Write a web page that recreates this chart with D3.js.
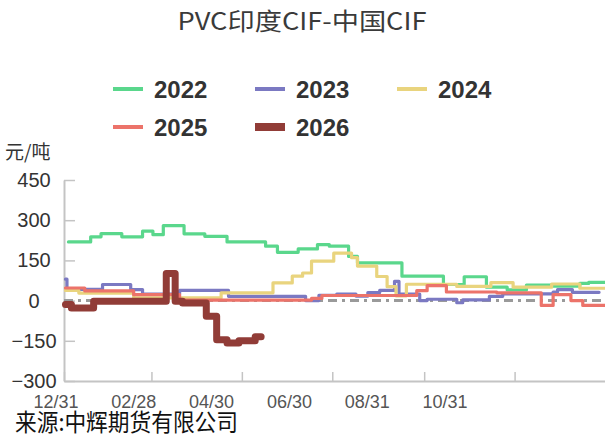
<!DOCTYPE html>
<html><head><meta charset="utf-8">
<script src="https://cdn.jsdelivr.net/npm/d3@7"></script>
<style>
html,body{margin:0;padding:0;background:#fff;}
svg{display:block;}
</style></head>
<body>
<svg id="chart" width="605" height="434"></svg>
<script>
// ---- data (dates are MM-DD within the seasonal year, values in 元/吨) ----
const seriesNames = ["2022", "2023", "2024", "2025", "2026"];
const seriesColors = ["#5AD78C", "#7B79C2", "#E9D47E", "#EC736A", "#913C37"];

const d2022 = [["01-03",219],["01-18",238],["01-25",250],["02-08",238],["02-22",259],["03-01",246],["03-08",280],["03-22",249],["04-05",240],["04-20",219],["05-16",203],["05-24",180],["06-07",193],["06-20",209],["06-28",203],["07-11",165],["07-17",141],["08-16",91],["09-13",60],["09-27",89],["10-12",50],["10-26",40],["11-08",58],["11-25",54],["12-14",64],["12-20",68],["12-31",68]];
const d2023 = [["01-01",80],["01-02",42],["01-26",60],["02-14",41],["02-22",24],["03-19",38],["04-21",16],["06-12",0],["06-21",20],["07-03",24],["07-16",17],["07-24",30],["08-01",38],["08-11",72],["08-14",24],["08-28",0],["09-02",5],["09-22",-8],["09-26",3],["10-14",16],["10-23",25],["11-26",32],["11-29",41],["12-09",31],["12-27",31]];
const d2024 = [["01-01",38],["01-10",28],["02-16",10],["04-16",29],["05-21",66],["06-03",91],["06-10",103],["06-16",147],["07-01",177],["07-13",160],["07-17",129],["07-30",90],["08-06",52],["08-12",18],["08-19",61],["09-22",53],["10-15",67],["10-30",50],["11-25",62],["12-14",46],["12-31",46]];
const d2025 = [["01-01",47],["01-14",36],["02-16",22],["03-19",2],["06-16",8],["06-23",19],["08-26",37],["09-02",56],["09-15",32],["10-19",29],["11-18",-18],["11-26",22],["12-08",0],["12-16",-18],["12-31",-18]];
const d2026 = [["01-01",-15],["01-05",-28],["01-20",-2],["03-10",101],["03-16",-2],["03-21",-9],["04-06",-58],["04-13",-146],["04-20",-158],["04-28",-150],["05-09",-135],["05-13",-135]];
const seriesData = [d2022, d2023, d2024, d2025, d2026];

const yTicks = [-300, -150, 0, 150, 300, 450];
const xTickDates = ["12-31", "02-28", "04-30", "06-30", "08-31", "10-31"];
const xTickLabels = ["12/31", "02/28", "04/30", "06/30", "08/31", "10/31"];

const titleText = "PVC印度CIF-中国CIF";
const unitText = "元/吨";
const sourceText = "来源:中辉期货有限公司";

// ---- helpers ----
const startDate = new Date(2021, 11, 31);
const endDate = new Date(2022, 11, 31);
function toDate(md, isStart) {
  if (md === "12-31") return isStart ? startDate : endDate;
  const [m, d] = md.split("-").map(Number);
  return new Date(2022, m - 1, d);
}

const svg = d3.select("#chart");
const L = 64, R = 605, T = 180, B = 381;

const x = d3.scaleTime().domain([startDate, endDate]).range([L, R]);
const y = d3.scaleLinear().domain([-300, 450]).range([B, T]);
const xLab = d3.scalePoint().domain(xTickLabels).range([56, 445]);

// title
svg.append("text").attr("x", 302).attr("y", 30).attr("text-anchor", "middle")
  .attr("font-family", "'Noto Sans CJK SC', 'Noto Sans', sans-serif").attr("font-size", 24)
  .attr("textLength", 249).attr("lengthAdjust", "spacingAndGlyphs")
  .attr("fill", "#3a3a3a").text(titleText);

// legend
const legCols = [113, 255, 397], legRows = [89, 127];
seriesNames.forEach((n, i) => {
  const lx = legCols[i % 3], ly = legRows[Math.floor(i / 3)];
  svg.append("line").attr("x1", lx).attr("x2", lx + 30).attr("y1", ly).attr("y2", ly)
    .attr("stroke", seriesColors[i]).attr("stroke-width", i === 4 ? 8 : 4);
  svg.append("text").attr("x", lx + 41).attr("y", ly + 8.5)
    .attr("font-family", "'Liberation Sans', Arial, sans-serif").attr("font-weight", "bold")
    .attr("font-size", 24).attr("fill", "#333").text(n);
});

// unit
svg.append("text").attr("x", 5).attr("y", 159)
  .attr("font-family", "'Noto Sans CJK SC', sans-serif").attr("font-size", 19)
  .attr("fill", "#333").text(unitText);

// y axis
const yAxis = svg.append("g").attr("transform", `translate(${L},0)`)
  .call(d3.axisLeft(y).tickValues(yTicks).tickSize(-11).tickPadding(30).tickSizeOuter(0));
yAxis.select(".domain").attr("stroke", "#c4c4c4").attr("stroke-width", 2);
yAxis.selectAll(".tick line").attr("stroke", "#c4c4c4").attr("stroke-width", 1.5);
yAxis.selectAll(".tick text").attr("text-anchor", "middle")
  .attr("font-family", "'Liberation Sans', Arial, sans-serif").attr("font-size", 20).attr("fill", "#333");

// x axis (tick marks only; labels drawn below)
const xAxis = svg.append("g").attr("transform", `translate(0,${B})`)
  .call(d3.axisBottom(x).tickValues(xTickDates.map(d => toDate(d, true))).tickSize(-9).tickSizeOuter(0));
xAxis.selectAll(".tick text").remove();
xAxis.select(".domain").attr("stroke", "#c4c4c4").attr("stroke-width", 2);
xAxis.selectAll(".tick line").attr("stroke", "#c4c4c4").attr("stroke-width", 1.5);

svg.append("g").selectAll("text").data(xTickLabels).join("text")
  .attr("x", d => xLab(d)).attr("y", 408).attr("text-anchor", "middle")
  .attr("font-family", "'Liberation Sans', Arial, sans-serif").attr("font-size", 18)
  .attr("fill", "#555").text(d => d);

// zero reference line
svg.append("line").attr("x1", x(startDate)).attr("x2", x(endDate)).attr("y1", y(0)).attr("y2", y(0))
  .attr("stroke", "#9a9a9a").attr("stroke-width", 3).attr("stroke-dasharray", "9,5,3,5");

// series
const line = d3.line().x(d => x(d.date)).y(d => y(d.v)).curve(d3.curveStepAfter);
seriesData.forEach((arr, i) => {
  const pts = arr.map((p, j) => ({ date: toDate(p[0], j === 0), v: p[1] }));
  svg.append("path").datum(pts).attr("d", line).attr("fill", "none")
    .attr("stroke", seriesColors[i]).attr("stroke-width", i === 4 ? 7 : 3.2)
    .attr("stroke-linejoin", "round").attr("stroke-linecap", "round");
});

// source
svg.append("text").attr("x", 15).attr("y", 431)
  .attr("font-family", "'Noto Sans CJK SC', sans-serif").attr("font-size", 24)
  .attr("textLength", 223).attr("lengthAdjust", "spacingAndGlyphs")
  .attr("fill", "#111").text(sourceText);
</script>
</body></html>
